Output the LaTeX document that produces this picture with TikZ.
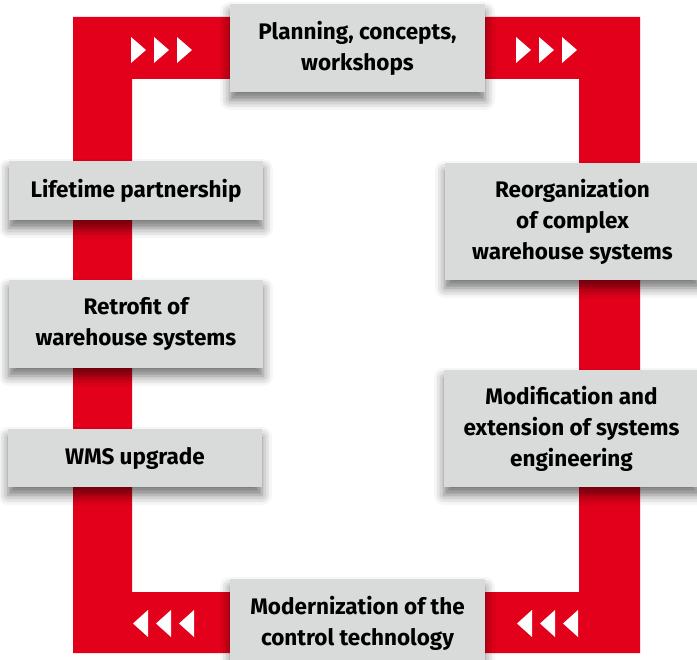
\documentclass[tikz,border=0pt]{standalone}
\usepackage{fontspec}
\setmainfont{Fira Sans}
\usetikzlibrary{shadows.blur}
\definecolor{frame}{HTML}{E2001A}
\definecolor{boxgray}{HTML}{D9DADA}
\begin{document}
\begin{tikzpicture}[x=1pt,y=-1pt,
  item/.style={fill=boxgray, align=center, inner sep=0pt,
    font=\fontsize{22.5}{31}\selectfont\bfseries, text=black,
    blur shadow={shadow xshift=0pt, shadow yshift=-8pt, shadow blur radius=10pt, shadow opacity=55}},
  tri/.style={fill=white, draw=none}]
\useasboundingbox (0,0) rectangle (697,660);
% red loop
\fill[frame, even odd rule] (73,17) rectangle (640,653) (132,79) rectangle (579,592);
% arrows
\foreach \x in {131,154,177} \fill[tri] (\x,37) -- (\x+15,50) -- (\x,63) -- cycle;
\foreach \x in {516,539,562} \fill[tri] (\x,37) -- (\x+15,50) -- (\x,63) -- cycle;
\foreach \x in {133,156,179} \fill[tri] (\x,623.5) -- (\x+15,610) -- (\x+15,637) -- cycle;
\foreach \x in {517,540,563} \fill[tri] (\x,623.5) -- (\x+15,610) -- (\x+15,637) -- cycle;
% boxes
\node[item, minimum width=255pt, minimum height=88pt] (plan) at (357.5,48) {Planning, concepts,\\workshops};
\node[item, minimum width=254pt, minimum height=59pt] (life) at (136,190.5) {Lifetime partnership};
\node[item, minimum width=254pt, minimum height=88pt] (retro) at (136,324) {Retrofit of\\warehouse systems};
\node[item, minimum width=254pt, minimum height=58pt] (wms) at (135,458) {WMS upgrade};
\node[item, minimum width=255pt, minimum height=117pt] (reorg) at (572.5,221.5) {Reorganization\\of complex\\warehouse systems};
\node[item, minimum width=255pt, minimum height=117pt] (modif) at (571.5,428.5) {Modification and\\extension of systems\\engineering};
\node[item, minimum width=255pt, minimum height=88pt] (modern) at (357.5,623) {Modernization of the\\control technology};
\end{tikzpicture}
\end{document}
